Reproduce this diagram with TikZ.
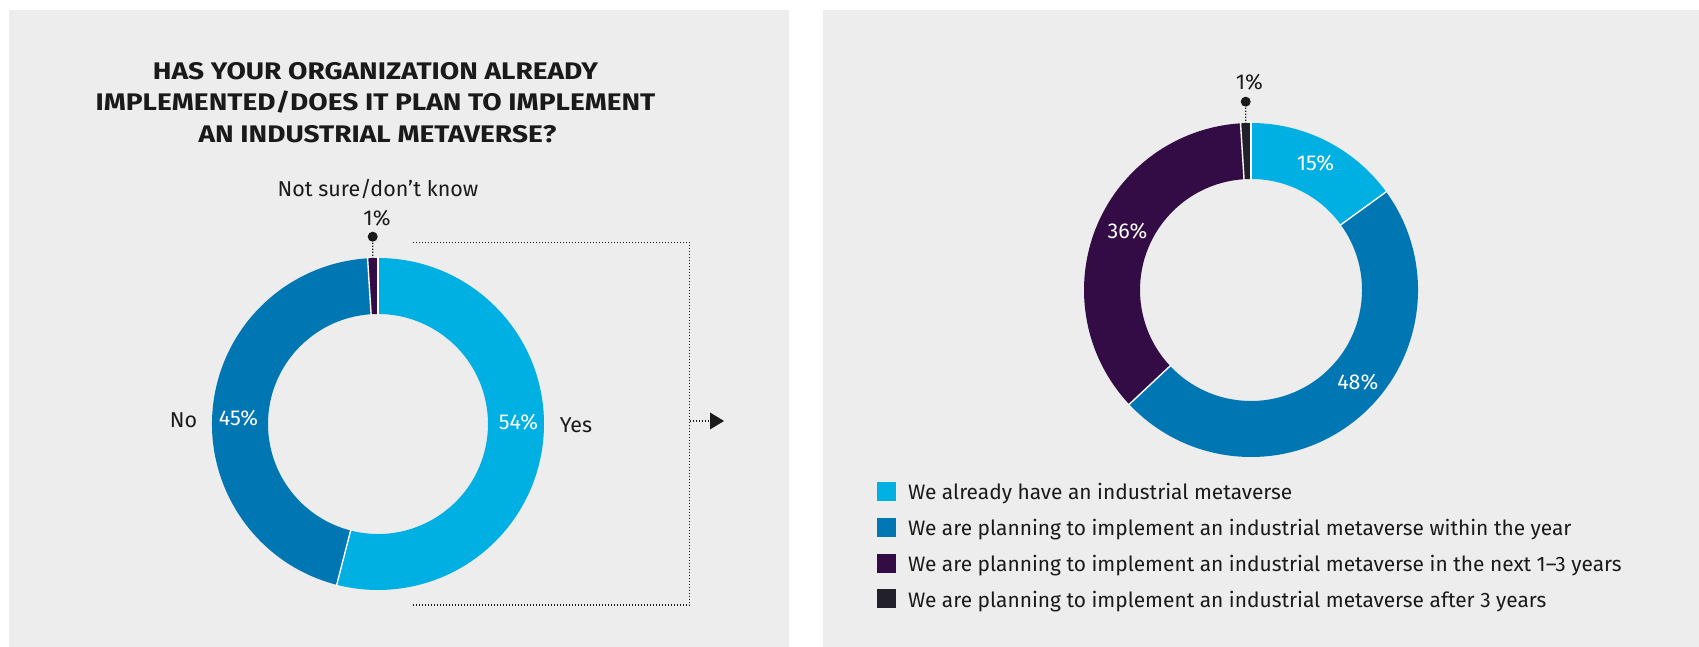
\documentclass[tikz,border=0pt]{standalone}
\usepackage{fontspec}
\setmainfont{Fira Sans}
\usetikzlibrary{arrows.meta,calc}
\definecolor{panelgray}{HTML}{EDEDED}
\definecolor{cLight}{HTML}{00B0E2}
\definecolor{cMid}{HTML}{0076B3}
\definecolor{cPurple}{HTML}{340C45}
\definecolor{cDark}{HTML}{22202B}
\definecolor{txt}{HTML}{1A1A1A}
\newcommand\donutseg[6]{\fill[#6] ($(#1)+(#4:#2)$) arc[start angle=#4,end angle=#5,radius=#2] -- ($(#1)+(#5:#3)$) arc[start angle=#5,end angle=#4,radius=#3] -- cycle;}
\newcommand\donutsep[4]{\draw[sepline] ($(#1)+(#4:#3)$) -- ($(#1)+(#4:#2)$);}
\newcommand\ttlstretch[1]{\scalebox{1.17}[1]{#1}}
\begin{document}
\begin{tikzpicture}[x=1pt,y=1pt,inner sep=0pt,outer sep=0pt,
  sepline/.style={white,line width=1.4pt},
  dotline/.style={txt,line width=1.2pt,dash pattern=on 1.2pt off 1.8pt},
  lbl/.style={text=txt,font=\fontsize{21.5}{26}\selectfont,anchor=base},
  pct/.style={text=white,font=\fontsize{21.5}{26}\selectfont,anchor=base},
  ttl/.style={text=txt,font=\bfseries\fontsize{24}{28}\selectfont,anchor=base},
  leg/.style={text=txt,font=\fontsize{20.9}{25}\selectfont,anchor=base west},
  legbox/.style={minimum width=19pt,minimum height=19pt,anchor=south west}]
\useasboundingbox (0,0) rectangle (1699,647);
\fill[white] (0,0) rectangle (1699,647);
\fill[panelgray] (9,0) rectangle (789,637);
\fill[panelgray] (823,0) rectangle (1699,637);

% ---------- left chart ----------
\node[ttl] (t1) at (375.5,567) {\ttlstretch{HAS YOUR ORGANIZATION ALREADY}};
\node[ttl] (t2) at (375.5,536) {\ttlstretch{IMPLEMENTED/DOES IT PLAN TO IMPLEMENT}};
\node[ttl] (t3) at (377.5,504.3) {\ttlstretch{AN INDUSTRIAL METAVERSE?}};

\coordinate (lc) at (378,223);
\donutseg{lc}{166pt}{110pt}{90}{-104.4}{cLight}
\donutseg{lc}{166pt}{110pt}{-104.4}{-266.4}{cMid}
\donutseg{lc}{166pt}{110pt}{93.6}{90}{cPurple}
\donutsep{lc}{167pt}{109pt}{90}
\donutsep{lc}{167pt}{109pt}{-104.4}
\donutsep{lc}{167pt}{109pt}{93.6}

\node[lbl] (notsure) at (378,450.3) {Not sure/don’t know};
\node[lbl] (lone) at (377,421.3) {1\%};
\coordinate (ldot) at (372.7,410.3);
\fill[txt] (ldot) circle[radius=5pt];
\coordinate (lring) at ($(lc)+(91.8:166pt)$);
\draw[dotline] (ldot) -- (lring);
\node[lbl] (no) at (183.6,219.7) {No};
\node[pct] (lno) at (238.5,221.7) {45\%};
\node[pct] (lyes) at (518.5,217) {54\%};
\node[lbl] (yes) at (576,214.3) {Yes};

% bracket and arrow
\coordinate (bt) at (413,404.7);
\coordinate (btr) at (689.5,404.7);
\coordinate (bbr) at (689.5,42);
\coordinate (bb) at (413,42);
\coordinate (bm) at (689.5,226);
\coordinate (bar) at (724,226);
\draw[dotline] (bt) -- (btr) -- (bbr) -- (bb);
\draw[dotline] (bm) -- (711,226);
\fill[txt] (710,234.5) -- (bar) -- (710,217.5) -- cycle;

% ---------- right chart ----------
\coordinate (rc) at (1251,357);
\donutseg{rc}{167pt}{111pt}{90}{36}{cLight}
\donutseg{rc}{167pt}{111pt}{36}{-136.8}{cMid}
\donutseg{rc}{167pt}{111pt}{-136.8}{-266.4}{cPurple}
\donutseg{rc}{167pt}{111pt}{93.6}{90}{cDark}
\donutsep{rc}{168pt}{110pt}{90}
\donutsep{rc}{168pt}{110pt}{36}
\donutsep{rc}{168pt}{110pt}{-136.8}
\donutsep{rc}{168pt}{110pt}{93.6}

\node[lbl] (rone) at (1249.4,557.7) {1\%};
\coordinate (rdot) at (1245.7,545.3);
\fill[txt] (rdot) circle[radius=5pt];
\coordinate (rring) at ($(rc)+(91.8:167pt)$);
\draw[dotline] (rdot) -- (rring);
\node[pct] (r15) at (1315.5,476) {15\%};
\node[pct] (r36) at (1127.5,408.7) {36\%};
\node[pct] (r48) at (1357.8,257.7) {48\%};

% legend
\node[legbox,fill=cLight] (b1) at (877,146) {};
\node[legbox,fill=cMid] (b2) at (877,110) {};
\node[legbox,fill=cPurple] (b3) at (877,74.3) {};
\node[legbox,fill=cDark] (b4) at (877,38.7) {};
\node[leg] (l1) at (908,147) {We already have an industrial metaverse};
\node[leg] (l2) at (908,111) {We are planning to implement an industrial metaverse within the year};
\node[leg] (l3) at (908,75.3) {We are planning to implement an industrial metaverse in the next 1–3 years};
\node[leg] (l4) at (908,39.7) {We are planning to implement an industrial metaverse after 3 years};
\end{tikzpicture}
\end{document}
